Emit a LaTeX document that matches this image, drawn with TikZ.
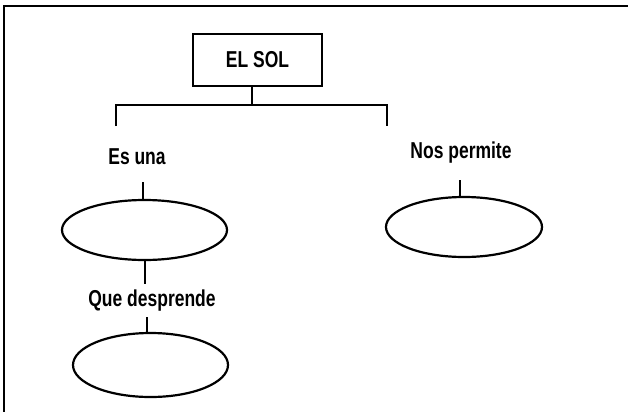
\documentclass[tikz,border=0pt]{standalone}
\usepackage{fontspec}
\setmainfont{Liberation Sans}[FakeStretch=0.76]
\usetikzlibrary{shapes.geometric}

\tikzset{
  label text/.style={font=\bfseries\fontsize{23}{26}\selectfont, inner sep=0pt},
  empty ellipse/.style={draw, ellipse, line width=2.2pt, inner sep=0pt},
  tree line/.style={line width=2pt}
}

\begin{document}
\begin{tikzpicture}[x=1pt, y=-1pt]
        \useasboundingbox (0,0) rectangle (628,412);
        % frame (only top and left edges)
        \draw[line width=2.6pt] (628,6) -- (4,6) -- (4,412);

        % title box
        \node[draw, line width=2.4pt, minimum width=129pt, minimum height=52pt,
              label text] (sol) at (257.5,60) {EL SOL};

        % branch
        \coordinate (top) at (252,105);
        \coordinate (bl) at (116,105);
        \coordinate (br) at (387,105);
        \coordinate (bl end) at (116,126);
        \coordinate (br end) at (387,126);
        \draw[tree line] (sol.south -| top) -- (top);
        \draw[tree line] (bl end) -- (bl) -- (br) -- (br end);

        % left column
        \node[label text] (esuna) at (137,157) {Es una};
        \node[empty ellipse, minimum width=165pt, minimum height=60pt] (estrella) at (144.5,230) {};
        \coordinate (esuna end) at (143,182);
        \draw[tree line] (esuna end) -- (esuna end |- estrella.north);

        \node[label text] (desprende) at (152,301) {Que desprende};
        \coordinate (estrella end) at (145,284);
        \draw[tree line] (estrella.south -| estrella end) -- (estrella end);
        \node[empty ellipse, minimum width=155pt, minimum height=64pt] (luz) at (150.5,365) {};
        \coordinate (desprende end) at (147,317);
        \draw[tree line] (desprende end) -- (desprende end |- luz.north);

        % right column
        \node[label text] (permite) at (461,153) {Nos permite};
        \node[empty ellipse, minimum width=156pt, minimum height=60pt] (vivir) at (464,227) {};
        \coordinate (permite end) at (460,180);
        \draw[tree line] (permite end) -- (permite end |- vivir.north);
\end{tikzpicture}
\end{document}
